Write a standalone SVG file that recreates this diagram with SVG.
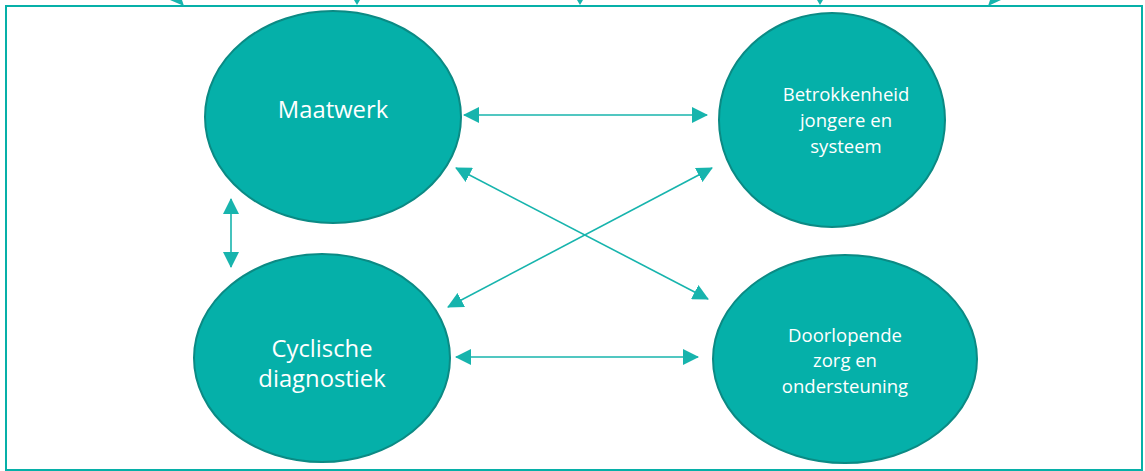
<svg xmlns="http://www.w3.org/2000/svg" width="1145" height="471" viewBox="0 0 1145 471">
<defs>
<style>
.node{fill:#05b0a9;stroke:#0b8a84;stroke-width:2}
.lbl{fill:#ffffff;font-family:"Open Sans","Noto Sans",sans-serif;text-anchor:middle}
.big{font-size:23.8px}
.small{font-size:18.5px}
.conn{stroke:#17b4ad;stroke-width:1.6;fill:none;marker-start:url(#ah);marker-end:url(#ah)}
.tip{fill:#17b4ad}
</style>
<marker id="ah" viewBox="0 0 16 16" refX="15" refY="8" markerWidth="16" markerHeight="16" markerUnits="userSpaceOnUse" orient="auto-start-reverse">
<path d="M0,0 L16,8 L0,16 Z" fill="#17b4ad"/>
</marker>
</defs>
<rect x="6" y="6" width="1136" height="464" fill="#ffffff" stroke="#06b0a8" stroke-width="2"/>
<g id="top-tips">
<polygon class="tip" points="170,0 182,0 184,6"/>
<polygon class="tip" points="354,0 360,0 357,5"/>
<polygon class="tip" points="577,0 583,0 580,5"/>
<polygon class="tip" points="817,0 823,0 820,5"/>
<polygon class="tip" points="988,6 990,0 1001,0"/>
</g>
<g id="connectors">
<line class="conn" x1="464" y1="115" x2="707" y2="115"/>
<line class="conn" x1="231" y1="199" x2="231" y2="267"/>
<line class="conn" x1="456" y1="357" x2="698" y2="357"/>
<line class="conn" x1="456" y1="168" x2="708" y2="299"/>
<line class="conn" x1="712" y1="168" x2="448" y2="307"/>
</g>
<g id="maatwerk">
<ellipse class="node" cx="333" cy="117" rx="128" ry="106"/>
<text class="lbl big" x="333" y="118">Maatwerk</text>
</g>
<g id="betrokkenheid">
<ellipse class="node" cx="832" cy="120" rx="113" ry="107"/>
<text class="lbl small" x="846" y="101">Betrokkenheid</text>
<text class="lbl small" x="846" y="127">jongere en</text>
<text class="lbl small" x="846" y="153">systeem</text>
</g>
<g id="cyclische">
<ellipse class="node" cx="322" cy="358" rx="128" ry="104"/>
<text class="lbl big" x="322" y="357">Cyclische</text>
<text class="lbl big" x="322" y="387">diagnostiek</text>
</g>
<g id="doorlopende">
<ellipse class="node" cx="845" cy="359" rx="132" ry="104"/>
<text class="lbl small" x="845" y="342">Doorlopende</text>
<text class="lbl small" x="845" y="367">zorg en</text>
<text class="lbl small" x="845" y="393">ondersteuning</text>
</g>
</svg>
